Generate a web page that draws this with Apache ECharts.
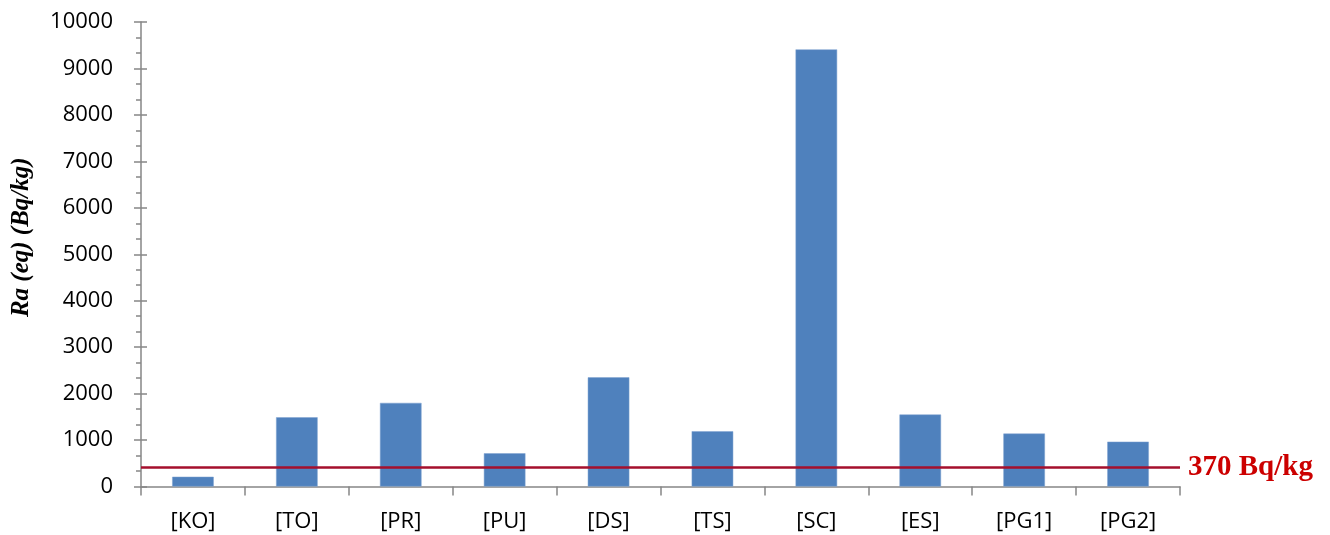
<!DOCTYPE html>
<html>
<head>
<meta charset="utf-8">
<script src="https://cdn.jsdelivr.net/npm/echarts@6/dist/echarts.min.js"></script>
<style>html,body{margin:0;padding:0;background:#fff}#c{width:1330px;height:535px}</style>
</head>
<body>
<div id="c"></div>
<script>
const categories = ['[KO]', '[TO]', '[PR]', '[PU]', '[DS]', '[TS]', '[SC]', '[ES]', '[PG1]', '[PG2]'];
const raValues = [210, 1490, 1800, 715, 2350, 1190, 9410, 1550, 1140, 965];
const limitValue = 410;
const limitLabel = '370 Bq/kg';
const yTicks = [0, 1000, 2000, 3000, 4000, 5000, 6000, 7000, 8000, 9000, 10000];

const chart = echarts.init(document.getElementById('c'), null, {renderer: 'canvas'});
const axisColor = '#868686';
const font = '"Open Sans", sans-serif';
const serif = '"Liberation Serif", "Times New Roman", serif';
chart.setOption({
  animation: false,
  grid: {left: 141, right: 150, top: 22, bottom: 48.5},
  xAxis: {
    type: 'category',
    data: categories,
    axisLine: {lineStyle: {color: axisColor, width: 1.5}},
    axisTick: {show: true, length: 9, lineStyle: {color: axisColor, width: 1.5}},
    axisLabel: {color: '#000', fontSize: 22, fontFamily: font, margin: 24}
  },
  yAxis: [{
    type: 'value',
    min: yTicks[0], max: yTicks[yTicks.length - 1], interval: 1000,
    name: 'Ra (eq) (Bq/kg)',
    nameLocation: 'middle',
    nameRotate: 90,
    nameGap: 107,
    nameTextStyle: {fontFamily: serif, fontStyle: 'italic', fontWeight: 'bold', fontSize: 25, color: '#000', padding: [0, 0, 0, 34]},
    axisLine: {show: true, lineStyle: {color: axisColor, width: 1.5}},
    axisTick: {show: true, length: 7, lineStyle: {color: axisColor, width: 1.5}},
    minorTick: {show: true, splitNumber: 3, length: 5, lineStyle: {color: axisColor, width: 1.5}},
    splitLine: {show: false},
    axisLabel: {color: '#000', fontSize: 22, fontFamily: font, margin: 28, formatter: v => String(v)}
  }, {
    type: 'value',
    position: 'left',
    min: yTicks[0], max: yTicks[yTicks.length - 1], interval: 1000,
    axisLine: {show: false},
    axisTick: {show: true, inside: true, length: 6, lineStyle: {color: axisColor, width: 1.5}},
    axisLabel: {show: false},
    splitLine: {show: false}
  }],
  series: [{
    type: 'bar',
    data: raValues,
    barWidth: '40%',
    itemStyle: {color: '#4F81BD', borderColor: '#7FA3D0', borderWidth: 0.5},
    markLine: {
      silent: true,
      symbol: 'none',
      lineStyle: {color: '#A50F2D', width: 2.5, type: 'solid'},
      label: {position: 'end', formatter: limitLabel, color: '#CC0000', fontFamily: serif, fontWeight: 'bold', fontSize: 29, distance: 8},
      data: [{yAxis: limitValue}]
    }
  }]
});
</script>
</body>
</html>
